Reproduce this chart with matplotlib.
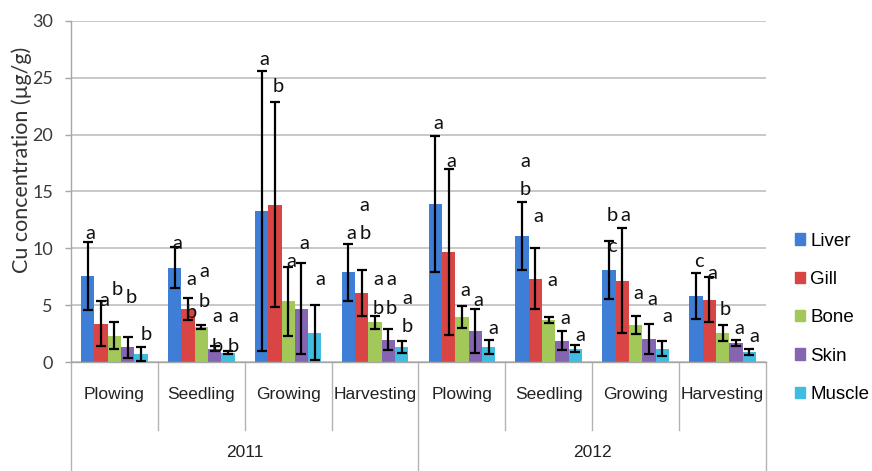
import matplotlib
matplotlib.use("Agg")
import matplotlib.pyplot as plt
from matplotlib.transforms import blended_transform_factory
from matplotlib.lines import Line2D
import numpy as np

# ---- data -------------------------------------------------------------
phases = ["Plowing", "Seedling", "Growing", "Harvesting",
          "Plowing", "Seedling", "Growing", "Harvesting"]
years = ["2011", "2012"]
organs = ["Liver", "Gill", "Bone", "Skin", "Muscle"]

liver_mean = [7.6, 8.3, 13.3, 7.9, 13.9, 11.1, 8.1, 5.8]
gill_mean = [3.4, 4.7, 13.85, 6.1, 9.7, 7.35, 7.15, 5.5]
bone_mean = [2.35, 3.1, 5.35, 3.5, 3.95, 3.7, 3.3, 2.6]
skin_mean = [1.3, 1.2, 4.7, 2.0, 2.75, 1.9, 2.05, 1.7]
muscle_mean = [0.75, 0.85, 2.6, 1.35, 1.35, 1.2, 1.2, 0.9]

liver_sd = [3.0, 1.8, 12.3, 2.5, 6.0, 3.0, 2.55, 2.0]
gill_sd = [2.0, 0.95, 9.0, 2.0, 7.3, 2.7, 4.6, 1.95]
bone_sd = [1.2, 0.15, 3.0, 0.55, 0.95, 0.25, 0.8, 0.7]
skin_sd = [0.95, 0.25, 4.0, 0.9, 1.9, 0.85, 1.3, 0.3]
muscle_sd = [0.6, 0.15, 2.4, 0.5, 0.6, 0.32, 0.65, 0.3]

means = [liver_mean, gill_mean, bone_mean, skin_mean, muscle_mean]
sds = [liver_sd, gill_sd, bone_sd, skin_sd, muscle_sd]

# significance letters: (phase index, organ index, letter, height drawn at)
letters = [
    (0, 0, "a", 11.35), (0, 1, "a", 5.47), (0, 2, "b", 6.35), (0, 3, "b", 5.65), (0, 4, "b", 2.4),
    (1, 0, "a", 10.45), (1, 1, "a", 7.23), (1, 1, "b", 4.39), (1, 2, "a", 7.95), (1, 2, "b", 5.32),
    (1, 3, "a", 4.0), (1, 3, "b", 1.37), (1, 4, "a", 4.0), (1, 4, "b", 1.37),
    (2, 0, "a", 26.6), (2, 1, "b", 24.26), (2, 2, "a", 8.83), (2, 3, "a", 10.45), (2, 4, "a", 7.23),
    (3, 0, "a", 11.33), (3, 1, "a", 13.8), (3, 1, "b", 11.33), (3, 2, "a", 7.23), (3, 2, "b", 4.74),
    (3, 3, "a", 7.23), (3, 3, "b", 4.74), (3, 4, "a", 5.62), (3, 4, "b", 3.13),
    (4, 0, "a", 20.98), (4, 1, "a", 17.67), (4, 2, "a", 6.29), (4, 3, "a", 5.47), (4, 4, "a", 2.98),
    (5, 0, "a", 17.67), (5, 0, "b", 15.19), (5, 1, "a", 12.84), (5, 2, "a", 7.17), (5, 3, "a", 3.86),
    (5, 4, "a", 2.31),
    (6, 0, "b", 12.93), (6, 0, "c", 10.15), (6, 1, "a", 12.93), (6, 2, "a", 6.0), (6, 3, "a", 5.53),
    (6, 4, "a", 4.0),
    (7, 0, "c", 8.83), (7, 1, "a", 7.81), (7, 2, "b", 4.68), (7, 3, "a", 2.98), (7, 4, "a", 2.25),
]

colors = ["#3f7ed6", "#d94545", "#a2c85a", "#8564b2", "#3fbde0"]

# ---- figure -----------------------------------------------------------
fig = plt.figure(figsize=(8.72, 4.71), dpi=100)
ax = fig.add_axes([0.0814, 0.2308, 0.797, 0.7253])

x = np.arange(len(phases))
width = 0.1534

for k, organ in enumerate(organs):
    pos = x + (k - 2) * width
    ax.bar(pos, means[k], width=width, color=colors[k], label=organ, zorder=2)
    ax.errorbar(pos, means[k], yerr=sds[k], fmt="none", ecolor="black",
                elinewidth=1.6, capsize=3.3, capthick=1.6, zorder=3)

for p, o, txt, h in letters:
    shift = 0.035 if o < 4 else 0.06
    ax.text(x[p] + (o - 2) * width + shift, h, txt, ha="center", va="center",
            fontsize=14.5, family="Lato", color="#111111", zorder=4)

ax.set_xlim(-0.5, len(phases) - 0.5)
ax.set_ylim(0, 30)
ax.set_yticks(np.arange(0, 31, 5))
ax.tick_params(axis="y", length=4, width=1, color="#a6a6a6", pad=9,
               labelsize=13, labelcolor="#3a3a3a")
for lab in ax.get_yticklabels():
    lab.set_family("Lato")
ax.set_xticks([])
ax.yaxis.grid(True, color="#c4c4c4", linewidth=1.3, zorder=0)
ax.set_axisbelow(True)
for side in ("top", "right"):
    ax.spines[side].set_visible(False)
ax.spines["left"].set_color("#a6a6a6")
ax.spines["bottom"].set_color("#a6a6a6")
ax.spines["left"].set_linewidth(1.0)
ax.spines["bottom"].set_linewidth(1.0)

# two-level category axis
trans = blended_transform_factory(ax.transData, ax.transAxes)
for i in range(len(phases) + 1):
    long_line = i % 4 == 0
    y_end = -0.35 if long_line else -0.198
    ax.add_line(Line2D([i - 0.5, i - 0.5], [0, y_end], transform=trans,
                       color="#b3b3b3", linewidth=1.0, clip_on=False))
for i, name in enumerate(phases):
    ax.text(x[i], -0.0957, name, transform=trans, ha="center", va="center",
            fontsize=12.5, family="Liberation Sans", color="#222222")
for j, yr in enumerate(years):
    ax.text(1.5 + 4 * j, -0.2626, yr, transform=trans, ha="center", va="center",
            fontsize=12.5, family="Liberation Sans", color="#222222")

fig.text(22 / 872, 1 - 160 / 471, "Cu concentration (\u00b5g/g)", rotation=90,
         ha="center", va="center", fontsize=15.5, family="Lato", color="#333333")

# legend
leg = fig.legend(handles=[plt.Rectangle((0, 0), 1, 1, color=c) for c in colors],
                 labels=organs, loc="upper left", bbox_to_anchor=(787 / 872, 1 - 225 / 471),
                 frameon=False, prop={"family": "Liberation Sans", "size": 13.5},
                 handlelength=0.55, handleheight=0.55, handletextpad=0.3,
                 labelspacing=1.14, borderaxespad=0)

fig.savefig("out.png", dpi=100)
